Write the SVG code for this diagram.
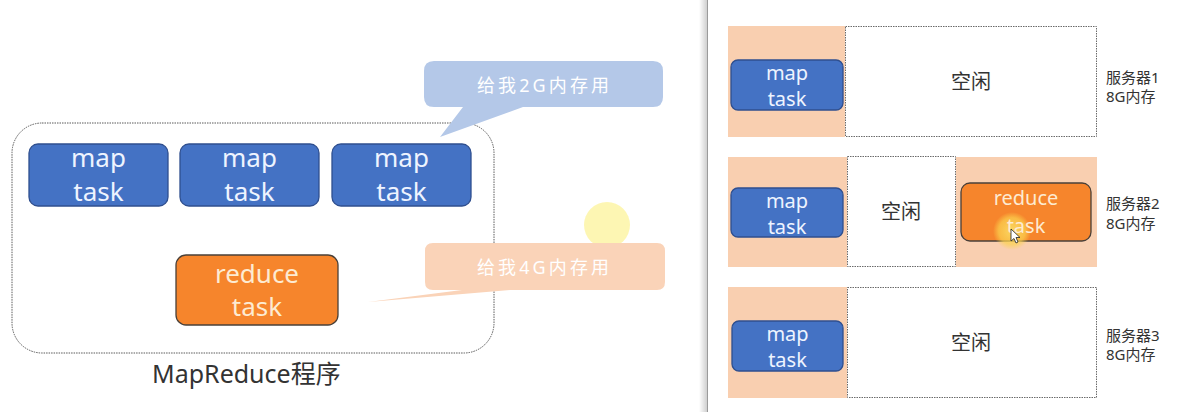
<svg xmlns="http://www.w3.org/2000/svg" width="1190" height="412" viewBox="0 0 1190 412">
<defs>
<linearGradient id="shade" x1="0" y1="0" x2="1" y2="0">
<stop offset="0" stop-color="#ffffff"/>
<stop offset="1" stop-color="#cfcfcf"/>
</linearGradient>
<radialGradient id="glow" cx="0.5" cy="0.5" r="0.5">
<stop offset="0" stop-color="#fbe06a" stop-opacity="0.9"/>
<stop offset="0.7" stop-color="#fbd24e" stop-opacity="0.7"/>
<stop offset="1" stop-color="#fbd24e" stop-opacity="0"/>
</radialGradient>
</defs>
<style>
text{font-family:"Noto Sans","Noto Sans CJK SC",sans-serif}
.map{fill:#4472c4;stroke:#2f4f8f;stroke-width:1.3}
.red{fill:#f6852c;stroke:#4a4038;stroke-width:1.3}
.tw{fill:#eef4ff;text-anchor:middle}
.tr{fill:#fdebd2;text-anchor:middle}
.peach{fill:#f9cfb0}
.dash{fill:#ffffff;stroke:#6a6a6a;stroke-width:1;stroke-dasharray:1.5 1}
.idle{fill:#333333;font-size:20px;text-anchor:middle}
.lab{fill:#333333;font-size:15px}
.big{font-size:26px}
.sm{font-size:20px}
.call{fill:#ffffff;font-size:18px;text-anchor:middle}
</style>
<rect x="0" y="0" width="1190" height="412" fill="#ffffff"/>

<!-- divider -->
<rect x="699" y="0" width="8" height="412" fill="url(#shade)"/>
<line x1="707.5" y1="0" x2="707.5" y2="412" stroke="#9a9a9a" stroke-width="1"/>

<!-- left: MapReduce program -->
<g id="program">
<rect x="12" y="123" width="482" height="230" rx="30" fill="none" stroke="#5a5a5a" stroke-width="1" stroke-dasharray="1.5 1"/>
<text x="152" y="383" fill="#333333" font-size="25">MapReduce程序</text>
</g>
<g id="map1">
<rect class="map" x="29" y="144" width="139" height="62" rx="9"/>
<text class="tw big" x="98.5" y="167">map</text>
<text class="tw big" x="98.5" y="201">task</text>
</g>
<g id="map2">
<rect class="map" x="180" y="144" width="139" height="62" rx="9"/>
<text class="tw big" x="249.5" y="167">map</text>
<text class="tw big" x="249.5" y="201">task</text>
</g>
<g id="map3">
<rect class="map" x="332" y="144" width="139" height="62" rx="9"/>
<text class="tw big" x="401.5" y="167">map</text>
<text class="tw big" x="401.5" y="201">task</text>
</g>
<g id="reduce">
<rect class="red" x="176" y="255" width="162" height="70" rx="10"/>
<text class="tr big" x="257" y="283">reduce</text>
<text class="tr big" x="257" y="316">task</text>
</g>

<!-- cursor highlight (left) -->
<circle cx="607" cy="225" r="23" fill="#fdf5a6" opacity="0.85"/>

<g id="callout-2g">
<path d="M434 61 H653 Q663 61 663 71 V97 Q663 107 653 107 H523 L440 137 L463 107 H434 Q424 107 424 97 V71 Q424 61 434 61 Z" fill="#b4c8e8"/>
<text class="call" x="543" y="92" textLength="132" lengthAdjust="spacing">给我2G内存用</text>
</g>
<g id="callout-4g">
<path d="M433 243 H657 Q665 243 665 251 V282 Q665 290 657 290 H510 L368 302 L462 290 H433 Q425 290 425 282 V251 Q425 243 433 243 Z" fill="#fad3b8"/>
<text class="call" x="543" y="274" textLength="132" lengthAdjust="spacing">给我4G内存用</text>
</g>

<!-- right: servers -->
<g id="server1">
<rect class="peach" x="728" y="26" width="117" height="111"/>
<rect class="dash" x="845.5" y="26.5" width="251" height="110"/>
<text class="idle" x="971" y="89">空闲</text>
<rect class="map" x="731" y="60" width="112" height="50" rx="7"/>
<text class="tw sm" x="787" y="80">map</text>
<text class="tw sm" x="787" y="106">task</text>
<text class="lab" x="1106" y="83">服务器1</text>
<text class="lab" x="1106" y="102">8G内存</text>
</g>
<g id="server2">
<rect class="peach" x="728" y="157" width="119" height="110"/>
<rect class="peach" x="956" y="157" width="141" height="110"/>
<rect class="dash" x="847.5" y="156.5" width="108" height="110"/>
<text class="idle" x="901" y="219">空闲</text>
<rect class="map" x="731" y="188" width="112" height="49" rx="7"/>
<text class="tw sm" x="787" y="208">map</text>
<text class="tw sm" x="787" y="234">task</text>
<rect class="red" x="961" y="183" width="130" height="58" rx="9"/>
<circle cx="1012" cy="231" r="19" fill="url(#glow)"/>
<text class="tr sm" x="1026" y="205">reduce</text>
<text class="tr sm" x="1026" y="233">task</text>
<path d="M1011 229 L1011 241 L1014 238.5 L1016 243 L1018 242 L1016 237.5 L1020 237.5 Z" fill="#ffffff" stroke="#222222" stroke-width="0.8"/>
<text class="lab" x="1106" y="209">服务器2</text>
<text class="lab" x="1106" y="229">8G内存</text>
</g>
<g id="server3">
<rect class="peach" x="728" y="287" width="119" height="111"/>
<rect class="dash" x="847.5" y="287.5" width="249" height="110"/>
<text class="idle" x="971" y="350">空闲</text>
<rect class="map" x="732" y="321" width="111" height="50" rx="7"/>
<text class="tw sm" x="787.5" y="341">map</text>
<text class="tw sm" x="787.5" y="367">task</text>
<text class="lab" x="1106" y="341">服务器3</text>
<text class="lab" x="1106" y="360">8G内存</text>
</g>
<g id="connectors"></g>
</svg>
